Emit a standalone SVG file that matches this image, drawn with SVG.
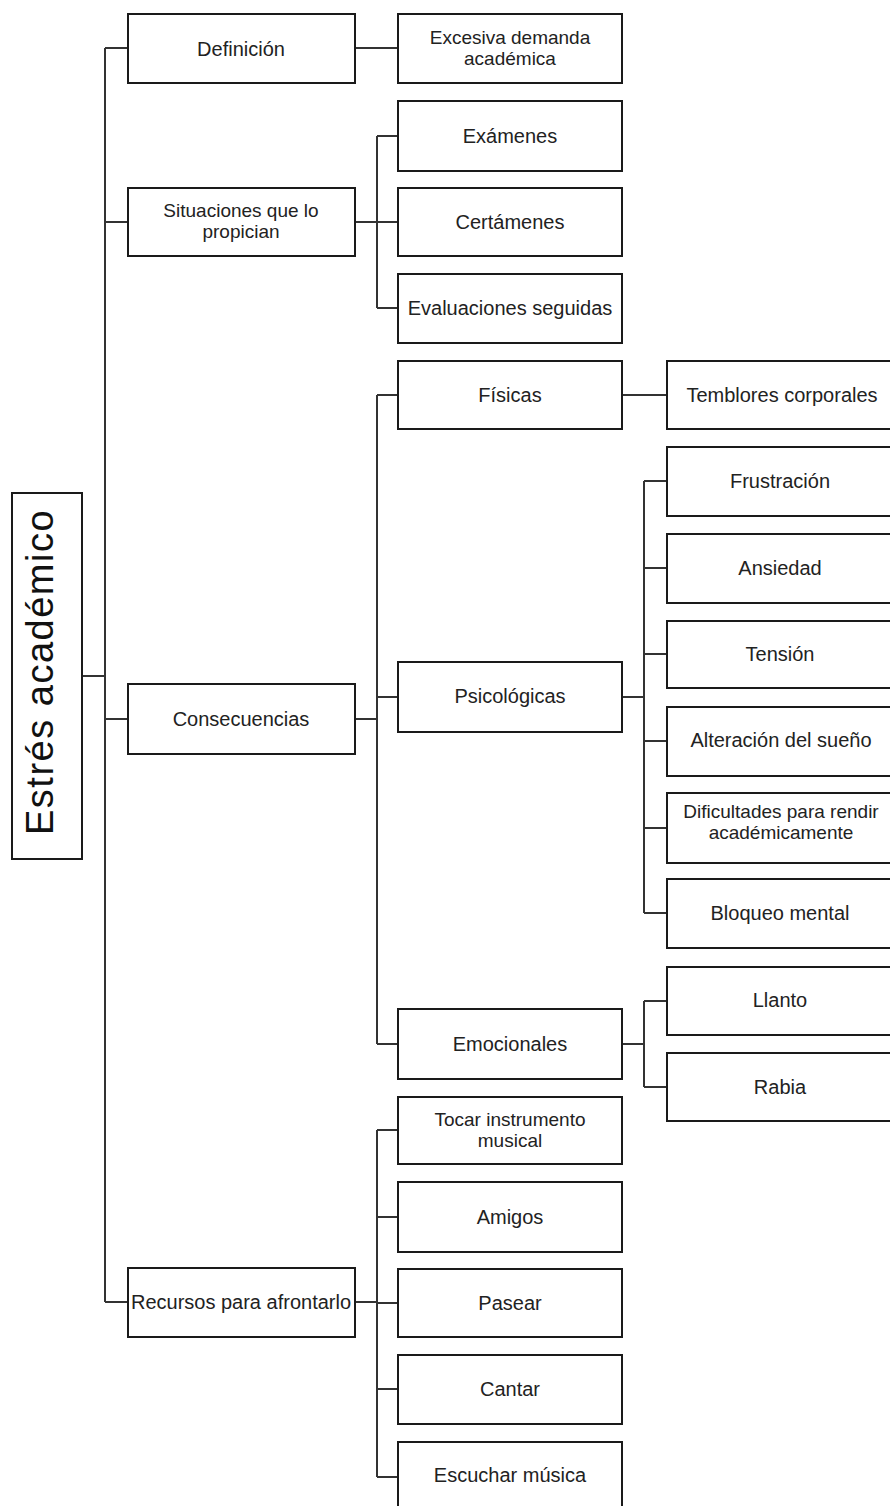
<svg xmlns="http://www.w3.org/2000/svg" width="890" height="1506" viewBox="0 0 890 1506">
<style>
.box{fill:#fff;stroke:#1a1a1a;stroke-width:2}
.t{font-family:"Liberation Sans",Arial,sans-serif;font-size:20px;fill:#222;text-anchor:middle}
.t2{font-size:19px}
.root{font-family:"Liberation Sans",Arial,sans-serif;font-size:38px;fill:#111;text-anchor:middle;letter-spacing:1.5px}
.c{fill:none;stroke:#333;stroke-width:2}
</style>
<rect width="890" height="1506" fill="#fff"/>
<g id="connectors" class="c">
<path d="M82,676H105M105,48V1302M105,48H128M105,222H128M105,719H128M105,1302H128"/>
<path d="M355,48H398"/>
<path d="M355,222H377M377,136V308M377,136H398M377,222H398M377,308H398"/>
<path d="M355,719H377M377,395V1044M377,395H398M377,697H398M377,1044H398"/>
<path d="M622,395H667"/>
<path d="M622,697H644M644,481V913M644,481H667M644,568H667M644,654H667M644,741H667M644,828H667M644,913H667"/>
<path d="M622,1044H644M644,1001V1087M644,1001H667M644,1087H667"/>
<path d="M355,1302H377M377,1130V1477M377,1130H398M377,1217H398M377,1303H398M377,1389H398M377,1477H398"/>
</g>
<g id="root"><rect class="box" x="12" y="493" width="70" height="366"/><text class="root" transform="translate(53,672) rotate(-90)">Estrés académico</text></g>
<g id="definicion"><rect class="box" x="128" y="14" width="227" height="69"/><text class="t" x="241" y="56">Definición</text></g>
<g id="situaciones"><rect class="box" x="128" y="188" width="227" height="68"/><text class="t t2" x="241" y="217">Situaciones que lo</text><text class="t t2" x="241" y="238">propician</text></g>
<g id="consecuencias"><rect class="box" x="128" y="684" width="227" height="70"/><text class="t" x="241" y="726">Consecuencias</text></g>
<g id="recursos"><rect class="box" x="128" y="1268" width="227" height="69"/><text class="t" x="241" y="1309">Recursos para afrontarlo</text></g>
<g id="excesiva"><rect class="box" x="398" y="14" width="224" height="69"/><text class="t t2" x="510" y="44">Excesiva demanda</text><text class="t t2" x="510" y="65">académica</text></g>
<g id="examenes"><rect class="box" x="398" y="101" width="224" height="70"/><text class="t" x="510" y="143">Exámenes</text></g>
<g id="certamenes"><rect class="box" x="398" y="188" width="224" height="68"/><text class="t" x="510" y="229">Certámenes</text></g>
<g id="evaluaciones"><rect class="box" x="398" y="274" width="224" height="69"/><text class="t" x="510" y="315">Evaluaciones seguidas</text></g>
<g id="fisicas"><rect class="box" x="398" y="361" width="224" height="68"/><text class="t" x="510" y="402">Físicas</text></g>
<g id="psicologicas"><rect class="box" x="398" y="662" width="224" height="70"/><text class="t" x="510" y="703">Psicológicas</text></g>
<g id="emocionales"><rect class="box" x="398" y="1009" width="224" height="70"/><text class="t" x="510" y="1051">Emocionales</text></g>
<g id="tocar"><rect class="box" x="398" y="1097" width="224" height="67"/><text class="t t2" x="510" y="1126">Tocar instrumento</text><text class="t t2" x="510" y="1147">musical</text></g>
<g id="amigos"><rect class="box" x="398" y="1182" width="224" height="70"/><text class="t" x="510" y="1224">Amigos</text></g>
<g id="pasear"><rect class="box" x="398" y="1269" width="224" height="68"/><text class="t" x="510" y="1310">Pasear</text></g>
<g id="cantar"><rect class="box" x="398" y="1355" width="224" height="69"/><text class="t" x="510" y="1396">Cantar</text></g>
<g id="escuchar"><rect class="box" x="398" y="1442" width="224" height="69"/><text class="t" x="510" y="1482">Escuchar música</text></g>
<g id="temblores"><rect class="box" x="667" y="361" width="226" height="68"/><text class="t" x="782" y="402">Temblores corporales</text></g>
<g id="frustracion"><rect class="box" x="667" y="447" width="226" height="69"/><text class="t" x="780" y="488">Frustración</text></g>
<g id="ansiedad"><rect class="box" x="667" y="534" width="226" height="69"/><text class="t" x="780" y="575">Ansiedad</text></g>
<g id="tension"><rect class="box" x="667" y="621" width="226" height="67"/><text class="t" x="780" y="661">Tensión</text></g>
<g id="alteracion"><rect class="box" x="667" y="707" width="226" height="69"/><text class="t" x="781" y="747">Alteración del sueño</text></g>
<g id="dificultades"><rect class="box" x="667" y="793" width="226" height="70"/><text class="t t2" x="781" y="818">Dificultades para rendir</text><text class="t t2" x="781" y="839">académicamente</text></g>
<g id="bloqueo"><rect class="box" x="667" y="879" width="226" height="69"/><text class="t" x="780" y="920">Bloqueo mental</text></g>
<g id="llanto"><rect class="box" x="667" y="967" width="226" height="68"/><text class="t" x="780" y="1007">Llanto</text></g>
<g id="rabia"><rect class="box" x="667" y="1053" width="226" height="68"/><text class="t" x="780" y="1094">Rabia</text></g>
</svg>
